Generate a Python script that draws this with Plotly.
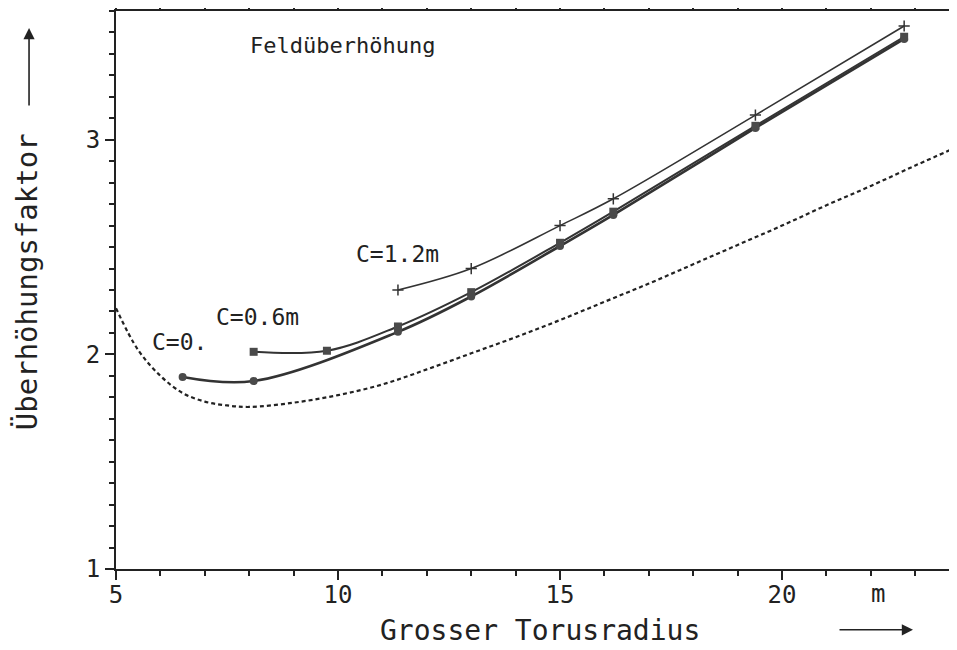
import plotly.graph_objects as go

# ---- data ----
x_c0 = [6.5, 8.1, 11.35, 13.0, 15.0, 16.2, 19.4, 22.75]
y_c0 = [1.895, 1.876, 2.105, 2.27, 2.505, 2.65, 3.055, 3.47]

x_c06 = [8.1, 9.75, 11.35, 13.0, 15.0, 16.2, 19.4, 22.75]
y_c06 = [2.012, 2.017, 2.13, 2.29, 2.52, 2.665, 3.065, 3.48]

x_c12 = [11.35, 13.0, 15.0, 16.2, 19.4, 22.75]
y_c12 = [2.30, 2.40, 2.60, 2.725, 3.115, 3.53]

x_ref = [5.0, 5.5, 6.0, 6.5, 7.0, 7.5, 8.0, 9.0, 10.0, 11.0, 12.0, 13.0, 14.0,
         15.0, 16.0, 17.0, 18.0, 19.0, 20.0, 21.0, 22.0, 23.0, 23.95]
y_ref = [2.215, 2.02, 1.90, 1.82, 1.78, 1.762, 1.755, 1.775, 1.81, 1.86, 1.93,
         2.005, 2.08, 2.16, 2.245, 2.33, 2.42, 2.51, 2.60, 2.695, 2.785, 2.88, 2.967]

x_ticks = [5, 10, 15, 20]
y_ticks = [1, 2, 3]

FONT = "DejaVu Sans Mono"
INK = "#222222"

fig = go.Figure()

fig.add_trace(go.Scatter(
    x=x_ref, y=y_ref, mode="lines",
    line=dict(color=INK, width=2.2, dash="4px,3px", shape="spline", smoothing=1.0),
    showlegend=False, hoverinfo="skip"))

fig.add_trace(go.Scatter(
    x=x_c0, y=y_c0, mode="lines+markers",
    line=dict(color="#333333", width=2.6, shape="spline", smoothing=1.0),
    marker=dict(symbol="circle", size=8, color="#4a4a4a"),
    showlegend=False))

fig.add_trace(go.Scatter(
    x=x_c06, y=y_c06, mode="lines+markers",
    line=dict(color="#333333", width=2.0, shape="spline", smoothing=1.0),
    marker=dict(symbol="square", size=8, color="#4a4a4a"),
    showlegend=False))

fig.add_trace(go.Scatter(
    x=x_c12, y=y_c12, mode="lines+markers",
    line=dict(color="#333333", width=1.6, shape="spline", smoothing=1.0),
    marker=dict(symbol="cross-thin-open", size=8,
                line=dict(color="#333333", width=1.5)),
    showlegend=False))

# text labels in the plot
labels = [
    ("Feldüberhöhung", 10.11, 3.44, 22),
    ("C=1.2m", 11.33, 2.467, 23),
    ("C=0.6m", 8.19, 2.174, 23),
    ("C=0.", 6.42, 2.057, 23),
]
for txt, lx, ly, fs in labels:
    fig.add_annotation(x=lx, y=ly, xref="x", yref="y", text=txt, showarrow=False,
                       font=dict(family=FONT, size=fs, color=INK),
                       xanchor="center", yanchor="middle")

# axis titles, unit and arrows
fig.add_annotation(x=0.5036, y=-0.111, xref="paper", yref="paper",
                   text="Grosser Torusradius", showarrow=False,
                   font=dict(family=FONT, size=28, color=INK),
                   xanchor="center", yanchor="middle")
fig.add_annotation(x=0.906, y=-0.045, xref="paper", yref="paper",
                   text="m", showarrow=False,
                   font=dict(family=FONT, size=24, color=INK),
                   xanchor="center", yanchor="middle")
fig.add_annotation(x=-0.1058, y=0.514, xref="paper", yref="paper",
                   text="Überhöhungsfaktor", showarrow=False, textangle=-90,
                   font=dict(family=FONT, size=29, color=INK),
                   xanchor="center", yanchor="middle")
fig.add_annotation(x=0.9477, y=-0.109, xref="paper", yref="paper",
                   text="", showarrow=True, ax=-75, ay=0,
                   arrowhead=2, arrowsize=1.4, arrowwidth=1.6, arrowcolor=INK)
fig.add_annotation(x=-0.1034, y=0.9695, xref="paper", yref="paper",
                   text="", showarrow=True, ax=0, ay=79,
                   arrowhead=2, arrowsize=1.4, arrowwidth=1.6, arrowcolor=INK)

fig.update_xaxes(
    range=[5, 23.94], tickvals=x_ticks, ticktext=[str(v) for v in x_ticks],
    ticks="outside", ticklen=9, tickwidth=2, tickcolor=INK,
    minor=dict(dtick=1, tick0=5, ticks="outside", ticklen=5, tickwidth=1.5, tickcolor=INK),
    showline=True, linecolor=INK, linewidth=2, mirror="ticks",
    showgrid=False, zeroline=False, automargin=False, ticklabelstandoff=-6,
    tickfont=dict(family=FONT, size=24, color=INK))
fig.update_yaxes(
    range=[1, 3.6], tickvals=y_ticks, ticktext=[str(v) for v in y_ticks],
    ticks="outside", ticklen=9, tickwidth=2, tickcolor=INK,
    minor=dict(dtick=0.1, tick0=1, ticks="outside", ticklen=5, tickwidth=1.5, tickcolor=INK),
    showline=True, linecolor=INK, linewidth=2, mirror=False,
    showgrid=False, zeroline=False, automargin=False,
    tickfont=dict(family=FONT, size=24, color=INK))

# the page body adds an 8px offset, so the figure is sized to fit the window
fig.update_layout(
    width=949, height=642,
    margin=dict(l=108, r=0, t=3, b=81),
    paper_bgcolor="white", plot_bgcolor="white",
    font=dict(family=FONT, color=INK),
)

fig.write_html("out.html")
